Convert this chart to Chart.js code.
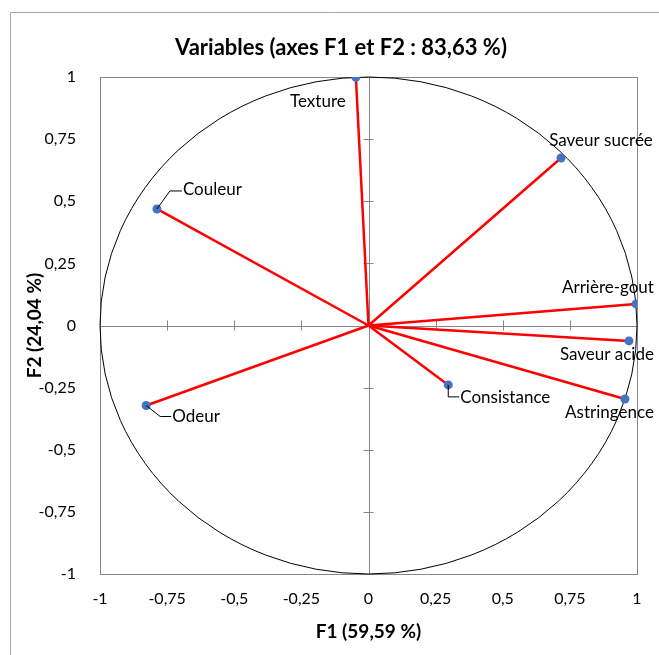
<!DOCTYPE html>
<html>
<head>
<meta charset="utf-8">
<script src="https://cdn.jsdelivr.net/npm/chart.js@4"></script>
<style>
  html, body { margin: 0; padding: 0; background: #fff; }
  #wrap { width: 659px; height: 655px; }
</style>
</head>
<body>
<div id="wrap"><canvas id="chart" width="659" height="655"></canvas></div>
<script>
// Variables (correlation circle, F1 x F2)
const variables = ["Texture", "Saveur sucrée", "Couleur", "Arrière-gout", "Saveur acide", "Consistance", "Astringence", "Odeur"];
const f1 = [-0.047, 0.717, -0.788, 0.996, 0.970, 0.297, 0.955, -0.828];
const f2 = [0.999, 0.674, 0.469, 0.087, -0.062, -0.239, -0.296, -0.322];
const tickValues = [-1, -0.75, -0.5, -0.25, 0, 0.25, 0.5, 0.75, 1];

const chartTitle = "Variables (axes F1 et F2 : 83,63 %)";
const xTitle = "F1 (59,59 %)";
const yTitle = "F2 (24,04 %)";

const FONT = "Lato, 'Open Sans', sans-serif";
const GRAY = "#868686";

// label placement, relative to the point (pixels)
const labelStyle = {
    "Texture":       { dx: -38, dy: 24, align: "center" },
    "Saveur sucrée": { dx: 40, dy: -17, align: "center" },
    "Couleur":       { dx: 26, dy: -19, align: "left", leader: [[13, -18], [25, -18]] },
    "Arrière-gout":  { dx: 18, dy: -16, align: "right" },
    "Saveur acide":  { dx: 25, dy: 14, align: "right" },
    "Consistance":   { dx: 12, dy: 13, align: "left", leader: [[0, 12], [11, 12]] },
    "Astringence":   { dx: 29, dy: 13, align: "right" },
    "Odeur":         { dx: 26, dy: 11, align: "left", leader: [[14, 11], [25, 11]] }
};

const fmt = v => String(v).replace(".", ",");

// one red segment per variable, from origin to its point
const lineSets = variables.map((name, i) => ({
    label: name,
    data: [{ x: 0, y: 0 }, { x: f1[i], y: f2[i] }],
    showLine: true,
    borderColor: "#ff0000",
    borderWidth: 2.5,
    pointRadius: 0,
    order: 2
}));

const pointSet = {
    label: "points",
    data: variables.map((n, i) => ({ x: f1[i], y: f2[i] })),
    pointRadius: 4.5,
    pointBackgroundColor: "#4472c4",
    pointBorderColor: "#4472c4",
    pointBorderWidth: 0,
    showLine: false,
    order: 1
};

// circle, cross axes and borders drawn under the datasets
const backdrop = {
    id: "backdrop",
    beforeDatasetsDraw(chart) {
        const { ctx, chartArea: a, scales: { x, y } } = chart;
        const cx = x.getPixelForValue(0), cy = y.getPixelForValue(0);
        ctx.save();
        // outer chart border (left + top visible)
        ctx.strokeStyle = "#a6a6a6";
        ctx.lineWidth = 1;
        ctx.beginPath();
        ctx.moveTo(10.5, 660);
        ctx.lineTo(10.5, 12.5);
        ctx.lineTo(660, 12.5);
        ctx.stroke();
        // title (Excel centres it slightly right of the canvas middle)
        ctx.fillStyle = "#000";
        ctx.font = "bold 22px " + FONT;
        ctx.textAlign = "center";
        ctx.textBaseline = "middle";
        ctx.fillText(chartTitle, 341, 48);
        // plot area border
        ctx.strokeStyle = GRAY;
        ctx.strokeRect(Math.round(a.left) + 0.5, Math.round(a.top) + 0.5, Math.round(a.width), Math.round(a.height));
        // cross axes with tick marks
        ctx.beginPath();
        ctx.moveTo(a.left, Math.round(cy) + 0.5);
        ctx.lineTo(a.right, Math.round(cy) + 0.5);
        ctx.moveTo(Math.round(cx) + 0.5, a.top);
        ctx.lineTo(Math.round(cx) + 0.5, a.bottom);
        tickValues.forEach(v => {
            if (v === 0 || Math.abs(v) === 1) return;
            const px = Math.round(x.getPixelForValue(v)) + 0.5;
            const py = Math.round(y.getPixelForValue(v)) + 0.5;
            ctx.moveTo(px, cy - 5); ctx.lineTo(px, cy + 5);
            ctx.moveTo(cx - 5, py); ctx.lineTo(cx + 5, py);
        });
        ctx.stroke();
        // unit circle
        ctx.strokeStyle = "#000";
        ctx.lineWidth = 1;
        ctx.beginPath();
        ctx.ellipse(cx, cy, x.getPixelForValue(1) - cx, cy - y.getPixelForValue(1), 0, 0, Math.PI * 2);
        ctx.stroke();
        ctx.restore();
    },
    afterDatasetsDraw(chart) {
        const { ctx, scales: { x, y } } = chart;
        ctx.save();
        ctx.font = "17px " + FONT;
        ctx.textBaseline = "middle";
        variables.forEach((name, i) => {
            const px = x.getPixelForValue(f1[i]), py = y.getPixelForValue(f2[i]);
            const s = labelStyle[name];
            if (s.leader) {
                ctx.strokeStyle = "#000";
                ctx.lineWidth = 1;
                ctx.beginPath();
                ctx.moveTo(px, py);
                s.leader.forEach(([lx, ly]) => ctx.lineTo(px + lx, py + ly));
                ctx.stroke();
            }
            ctx.fillStyle = "#000";
            ctx.textAlign = s.align;
            ctx.fillText(name, px + s.dx, py + s.dy);
        });
        ctx.restore();
    }
};

new Chart(document.getElementById("chart"), {
    type: "scatter",
    data: { datasets: [...lineSets, pointSet] },
    plugins: [backdrop],
    options: {
        responsive: false,
        animation: false,
        layout: { padding: { left: 10, right: 22, top: 77, bottom: 10 } },
        plugins: {
            legend: { display: false },
            tooltip: { enabled: false },
            title: { display: false }
        },
        scales: {
            x: {
                type: "linear",
                min: -1, max: 1,
                afterBuildTicks: s => { s.ticks = tickValues.map(v => ({ value: v })); },
                afterFit: s => { s.height = 71; },
                grid: { display: false },
                border: { display: false },
                ticks: { color: "#000", padding: 7, maxRotation: 0, font: { family: FONT, size: 16 }, callback: fmt },
                title: { display: true, text: xTitle, color: "#000", padding: { top: 0, bottom: 1.6 }, font: { family: FONT, size: 19, weight: "bold", lineHeight: 1.2 } }
            },
            y: {
                type: "linear",
                min: -1, max: 1,
                afterBuildTicks: s => { s.ticks = tickValues.map(v => ({ value: v })); },
                afterFit: s => { s.width = 90; },
                grid: { display: false },
                border: { display: false },
                ticks: { color: "#000", padding: 16, font: { family: FONT, size: 16 }, callback: fmt },
                title: { display: true, text: yTitle, color: "#000", padding: { top: 13.6, bottom: 0 }, font: { family: FONT, size: 19, weight: "bold", lineHeight: 1.2 } }
            }
        }
    }
});
</script>
</body>
</html>
